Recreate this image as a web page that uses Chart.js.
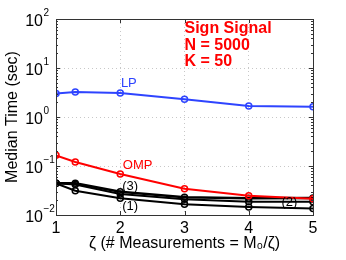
<!DOCTYPE html>
<html>
<head>
<meta charset="utf-8">
<script src="https://cdn.jsdelivr.net/npm/chart.js@4.4.0/dist/chart.umd.min.js"></script>
<style>
html,body{margin:0;padding:0;background:#fff;}
#wrap{width:346px;height:260px;position:relative;}
</style>
</head>
<body>
<div id="wrap"><canvas id="c" width="346" height="260"></canvas></div>
<script>
// ---- data ----
const zeta = [1, 1.3, 2, 3, 4, 5];
const lpTime = [3.03, 3.24, 3.09, 2.29, 1.68, 1.62];
const ompTime = [0.165, 0.121, 0.0687, 0.0344, 0.0248, 0.0215];
const alg3Time = [0.0443, 0.0443, 0.0299, 0.0230, 0.0219, 0.0222];
const alg2Time = [0.0443, 0.0420, 0.0268, 0.0209, 0.0187, 0.0187];
const alg1Time = [0.0443, 0.0313, 0.0219, 0.0165, 0.0146, 0.0135];
const xTicks = [1, 2, 3, 4, 5];
const yDecades = [-2, -1, 0, 1, 2];
const seriesNames = ['LP', 'OMP', '(3)', '(2)', '(1)'];
const infoLines = ['Sign Signal', 'N = 5000', 'K = 50'];
const xTitle = 'ζ (# Measurements = M₀/ζ)';
const yTitle = 'Median Time (sec)';
// label anchors in data coordinates
const labelX = [2.01, 2.04, 2.03, 4.51, 2.03];
const labelY = [4.15, 0.087, 0.033, 0.0155, 0.0129];
const infoX = 3.0;
const infoY = [52.5, 23.6, 11.1];

const FONT = '"Liberation Sans", Arial, Helvetica, sans-serif';
const pts = arr => zeta.map((x, i) => ({x: x, y: arr[i]}));

function ds(label, arr, color, width) {
  return {
    label: label, data: pts(arr), borderColor: color, backgroundColor: 'rgba(0,0,0,0)',
    borderWidth: width, pointRadius: 3, pointBorderWidth: 1.5,
    pointBorderColor: color, pointBackgroundColor: 'rgba(0,0,0,0)', tension: 0
  };
}

const BLUE = '#2e44ff';
const RED = '#ff0000';
const BLACK = '#000000';
const seriesColors = [BLUE, RED, BLACK, BLACK, BLACK];

const decorPlugin = {
  id: 'decor',
  afterDraw(chart) {
    const ctx = chart.ctx, a = chart.chartArea;
    const xs = chart.scales.x, ys = chart.scales.y;
    ctx.save();
    // box
    ctx.strokeStyle = '#333';
    ctx.lineWidth = 1;
    ctx.strokeRect(Math.round(a.left) + 0.5, Math.round(a.top) + 0.5,
                   Math.round(a.right - a.left), Math.round(a.bottom - a.top));
    // major + minor tick marks on y (inside, both sides)
    ctx.beginPath();
    yDecades.forEach(d => {
      for (let m = 1; m <= 9; m++) {
        const v = m * Math.pow(10, d);
        if (v > 100.0001) continue;
        const py = Math.round(ys.getPixelForValue(v)) + 0.5;
        const len = m === 1 ? 4 : 2;
        ctx.moveTo(a.left, py); ctx.lineTo(a.left + len, py);
        ctx.moveTo(a.right, py); ctx.lineTo(a.right - len, py);
      }
    });
    xTicks.forEach(t => {
      const px = Math.round(xs.getPixelForValue(t)) + 0.5;
      ctx.moveTo(px, a.bottom); ctx.lineTo(px, a.bottom - 4);
      ctx.moveTo(px, a.top); ctx.lineTo(px, a.top + 4);
    });
    ctx.stroke();
    // y tick labels 10^k
    ctx.fillStyle = '#000';
    ctx.textBaseline = 'alphabetic';
    yDecades.forEach(d => {
      const py = ys.getPixelForValue(Math.pow(10, d));
      const exp = d < 0 ? '\u2212' + Math.abs(d) : String(d);
      const baseRight = a.left - 13;
      ctx.font = '16px ' + FONT;
      ctx.textAlign = 'right';
      ctx.fillText('10', baseRight, py + 7);
      ctx.font = '10px ' + FONT;
      ctx.textAlign = 'left';
      ctx.fillText(exp, baseRight + 0.5, py - 3);
    });
    // series labels
    ctx.font = '13px ' + FONT;
    ctx.textAlign = 'left';
    seriesNames.forEach((n, i) => {
      ctx.fillStyle = seriesColors[i];
      ctx.fillText(n, xs.getPixelForValue(labelX[i]), ys.getPixelForValue(labelY[i]));
    });
    // info text
    ctx.font = 'bold 16px ' + FONT;
    ctx.fillStyle = RED;
    infoLines.forEach((t, i) => {
      ctx.fillText(t, xs.getPixelForValue(infoX), ys.getPixelForValue(infoY[i]));
    });
    ctx.restore();
  }
};

new Chart(document.getElementById('c'), {
  type: 'line',
  data: {
    datasets: [
      ds('LP', lpTime, BLUE, 2),
      ds('OMP', ompTime, RED, 2),
      ds('(3)', alg3Time, BLACK, 2.5),
      ds('(2)', alg2Time, BLACK, 2),
      ds('(1)', alg1Time, BLACK, 2)
    ]
  },
  options: {
    responsive: false,
    animation: false,
    devicePixelRatio: 1,
    layout: {padding: {top: 19, right: 33, left: 0, bottom: 0}},
    plugins: {legend: {display: false}, tooltip: {enabled: false}},
    scales: {
      x: {
        type: 'linear', min: 1, max: 5,
        afterBuildTicks: s => { s.ticks = xTicks.map(v => ({value: v})); },
        afterFit: s => { s.height = 45; },
        ticks: {color: '#000', font: {family: FONT, size: 16}, padding: 4, maxRotation: 0},
        grid: {color: '#c8c8c8', drawTicks: false, lineWidth: 1},
        border: {display: false, dash: [1, 3]},
        title: {display: true, text: xTitle, color: '#000', font: {family: FONT, size: 16}, padding: {top: 0, bottom: 7}}
      },
      y: {
        type: 'logarithmic', min: 0.01, max: 100,
        afterBuildTicks: s => { s.ticks = yDecades.map(d => ({value: Math.pow(10, d)})); },
        afterFit: s => { s.width = 56; },
        ticks: {display: false},
        grid: {color: '#c8c8c8', drawTicks: false, lineWidth: 1},
        border: {display: false, dash: [1, 3]},
        title: {display: true, text: yTitle, color: '#000', font: {family: FONT, size: 16}, padding: {top: 3, bottom: 0}}
      }
    }
  },
  plugins: [decorPlugin]
});
</script>
</body>
</html>
